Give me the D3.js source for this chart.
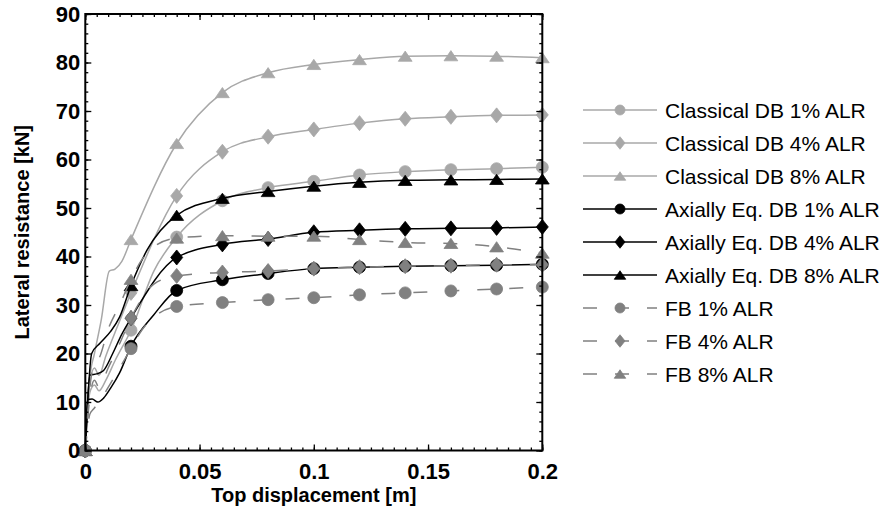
<!DOCTYPE html>
<html>
<head>
<meta charset="utf-8">
<script src="https://cdn.jsdelivr.net/npm/d3@7"></script>
<style>
body { margin: 0; background: #fff; }
text { font-family: "Liberation Sans", Arial, sans-serif; }
</style>
</head>
<body>
<svg id="chart" width="886" height="510"></svg>
<script>
// displacement where the markers sit [m]
const markerX = [0, 0.02, 0.04, 0.06, 0.08, 0.1, 0.12, 0.14, 0.16, 0.18, 0.2];

// lateral resistance at the marker positions [kN]
const classical1 = [0, 24.8, 44.0, 51.5, 54.2, 55.5, 56.8, 57.5, 57.9, 58.1, 58.4];
const classical4 = [0, 32.5, 52.5, 61.6, 64.7, 66.2, 67.5, 68.4, 68.8, 69.1, 69.2];
const classical8 = [0, 43.5, 63.3, 73.8, 77.9, 79.6, 80.6, 81.3, 81.4, 81.3, 81.0];
const axial1 = [0, 21.5, 33.0, 35.2, 36.5, 37.5, 37.8, 38.0, 38.1, 38.2, 38.4];
const axial4 = [0, 27.3, 39.8, 42.5, 43.6, 45.0, 45.4, 45.7, 45.8, 45.9, 46.1];
const axial8 = [0, 34.0, 48.5, 52.0, 53.4, 54.5, 55.3, 55.7, 55.8, 55.9, 56.0];
const fb1 = [0, 21.0, 29.7, 30.5, 31.1, 31.5, 32.1, 32.5, 32.9, 33.3, 33.7];
const fb4 = [0, 27.3, 36.0, 36.7, 37.0, 37.5, 37.8, 38.0, 38.1, 38.3, 38.3];
const fb8 = [0, 35.3, 43.8, 44.3, 44.2, 44.2, 43.5, 42.9, 42.7, 42.0, 40.7];

// extra curve points between markers (mostly the wiggly start) [m, kN]
const classical1Extra = [[0.002, 12], [0.004, 13.5], [0.006, 12.3], [0.009, 14.5], [0.013, 18.5], [0.03, 37]];
const classical4Extra = [[0.002, 14], [0.004, 17], [0.006, 15.5], [0.009, 19.5], [0.014, 25.5]];
const classical8Extra = [[0.002, 15], [0.004, 20], [0.007, 27], [0.0105, 37], [0.013, 37.4], [0.016, 39]];
const axial1Extra = [[0.001, 10.5], [0.003, 10.6], [0.0055, 10.0], [0.008, 10.8], [0.011, 12.8], [0.015, 16], [0.03, 28]];
const axial4Extra = [[0.002, 15.5], [0.005, 15.8], [0.008, 16.5], [0.012, 20], [0.016, 24]];
const axial8Extra = [[0.0028, 20], [0.0064, 22.1], [0.011, 24.5], [0.015, 27.5], [0.027, 41.3]];
const fb1Extra = [[0.002, 7.5], [0.0035, 8.5], [0.006, 10], [0.01, 13], [0.015, 17], [0.025, 25], [0.03, 27.5]];
const fb4Extra = [[0.002, 11], [0.004, 14.5], [0.006, 13], [0.01, 17], [0.015, 22], [0.025, 31.5], [0.03, 34.3]];
const fb8Extra = [[0.002, 13], [0.004, 18], [0.006, 19], [0.01, 25], [0.015, 30], [0.025, 39.5], [0.03, 42]];

const seriesNames = [
    "Classical DB 1% ALR", "Classical DB 4% ALR", "Classical DB 8% ALR",
    "Axially Eq. DB 1% ALR", "Axially Eq. DB 4% ALR", "Axially Eq. DB 8% ALR",
    "FB 1% ALR", "FB 4% ALR", "FB 8% ALR"
];

const xTicks = [0, 0.05, 0.1, 0.15, 0.2];
const yTicks = [0, 10, 20, 30, 40, 50, 60, 70, 80, 90];

const lightGray = '#a8a8a8';
const darkGray = '#808080';

// series table built from the arrays above
const series = [
    { name: seriesNames[0], y: classical1, extra: classical1Extra, color: lightGray, shape: 'circle', dash: null },
    { name: seriesNames[1], y: classical4, extra: classical4Extra, color: lightGray, shape: 'diamond', dash: null },
    { name: seriesNames[2], y: classical8, extra: classical8Extra, color: lightGray, shape: 'triangle', dash: null },
    { name: seriesNames[3], y: axial1, extra: axial1Extra, color: '#000', shape: 'circle', dash: null },
    { name: seriesNames[4], y: axial4, extra: axial4Extra, color: '#000', shape: 'diamond', dash: null },
    { name: seriesNames[5], y: axial8, extra: axial8Extra, color: '#000', shape: 'triangle', dash: null },
    { name: seriesNames[6], y: fb1, extra: fb1Extra, color: darkGray, shape: 'circle', dash: '14,18' },
    { name: seriesNames[7], y: fb4, extra: fb4Extra, color: darkGray, shape: 'diamond', dash: '14,18' },
    { name: seriesNames[8], y: fb8, extra: fb8Extra, color: darkGray, shape: 'triangle', dash: '14,18' }
];

const margin = { top: 14, left: 85.3 };
const width = 457;
const height = 436.5;

const svg = d3.select('#chart');
const g = svg.append('g')
    .attr('transform', `translate(${margin.left}, ${margin.top})`);

const x = d3.scaleLinear().domain([0, 0.2]).range([0, width]);
const y = d3.scaleLinear().domain([0, 90]).range([height, 0]);

// marker path, s = half width
function markerPath(shape, s) {
    if (shape === 'circle') {
        return `M${-s},0A${s},${s} 0 1,0 ${s},0A${s},${s} 0 1,0 ${-s},0Z`;
    }
    if (shape === 'diamond') {
        let h = s * 1.25;
        return `M0,${-h}L${s},0L0,${h}L${-s},0Z`;
    }
    let h = s * 1.7;
    let w = s * 1.15;
    return `M0,${-h / 2}L${w},${h / 2}L${-w},${h / 2}Z`;
}

const line = d3.line()
    .x(d => x(d[0]))
    .y(d => y(d[1]))
    .curve(d3.curveMonotoneX);

// lines and markers, series by series
series.forEach(s => {
    let pts = markerX.map((v, i) => [v, s.y[i]]).concat(s.extra);
    pts.sort((a, b) => a[0] - b[0]);

    g.append('path')
        .attr('d', line(pts))
        .attr('fill', 'none')
        .attr('stroke', s.color)
        .attr('stroke-width', 1.5)
        .attr('stroke-dasharray', s.dash)
    ;
    g.selectAll(null)
        .data(markerX.map((v, i) => [v, s.y[i]]))
        .enter()
        .append('path')
        .attr('d', markerPath(s.shape, 6))
        .attr('transform', d => `translate(${x(d[0])}, ${y(d[1])})`)
        .attr('fill', s.color)
        .attr('stroke', s.color)
        .attr('stroke-width', 0.8)
    ;
});

// axes: inward ticks on all four sides
const xMinor = d3.range(0, 0.2001, 0.005);
const yMinor = d3.range(0, 90.1, 2);

function styleAxis(sel) {
    sel.select('.domain').remove();
    sel.selectAll('line').attr('stroke', '#000').attr('stroke-width', 1.3);
}

g.append('g')
    .attr('transform', `translate(0, ${height})`)
    .call(d3.axisBottom(x).tickValues(xMinor).tickSize(-3).tickFormat(''))
    .call(styleAxis);
g.append('g')
    .call(d3.axisTop(x).tickValues(xMinor).tickSize(-3).tickFormat(''))
    .call(styleAxis);
g.append('g')
    .call(d3.axisLeft(y).tickValues(yMinor).tickSize(-3).tickFormat(''))
    .call(styleAxis);
g.append('g')
    .attr('transform', `translate(${width}, 0)`)
    .call(d3.axisRight(y).tickValues(yMinor).tickSize(-3).tickFormat(''))
    .call(styleAxis);

let xAxis = g.append('g')
    .attr('transform', `translate(0, ${height})`)
    .call(d3.axisBottom(x).tickValues(xTicks).tickSize(-6).tickPadding(13).tickFormat(d => String(d)))
    .call(styleAxis);
let yAxis = g.append('g')
    .call(d3.axisLeft(y).tickValues(yTicks).tickSize(-6).tickPadding(5))
    .call(styleAxis);
g.append('g')
    .call(d3.axisTop(x).tickValues(xTicks).tickSize(-6).tickFormat(''))
    .call(styleAxis);
g.append('g')
    .attr('transform', `translate(${width}, 0)`)
    .call(d3.axisRight(y).tickValues(yTicks).tickSize(-6).tickFormat(''))
    .call(styleAxis);

[xAxis, yAxis].forEach(a => a.selectAll('text')
    .attr('fill', '#000')
    .style('font-size', '22px')
    .style('font-weight', 'bold'));

// frame
g.append('rect')
    .attr('width', width)
    .attr('height', height)
    .attr('fill', 'none')
    .attr('stroke', '#000')
    .attr('stroke-width', 2);

// axis titles
svg.append('text')
    .attr('x', margin.left + width / 2)
    .attr('y', 502)
    .attr('text-anchor', 'middle')
    .style('font-size', '20px')
    .style('font-weight', 'bold')
    .text('Top displacement [m]');
svg.append('text')
    .attr('transform', `translate(29, ${margin.top + height / 2}) rotate(-90)`)
    .attr('text-anchor', 'middle')
    .style('font-size', '20px')
    .style('font-weight', 'bold')
    .text('Lateral resistance [kN]');

// legend
const legend = svg.append('g');
series.forEach((s, i) => {
    let ly = 110 + i * 33;
    legend.append('line')
        .attr('x1', 583).attr('x2', 657)
        .attr('y1', ly).attr('y2', ly)
        .attr('stroke', s.color)
        .attr('stroke-width', 1.5)
        .attr('stroke-dasharray', s.dash);
    legend.append('path')
        .attr('d', markerPath(s.shape, 5))
        .attr('transform', `translate(620, ${ly})`)
        .attr('fill', s.color)
        .attr('stroke', s.color)
        .attr('stroke-width', 0.8);
    legend.append('text')
        .attr('x', 665)
        .attr('y', ly)
        .attr('dy', '0.36em')
        .style('font-size', '21px')
        .text(s.name);
});
</script>
</body>
</html>
